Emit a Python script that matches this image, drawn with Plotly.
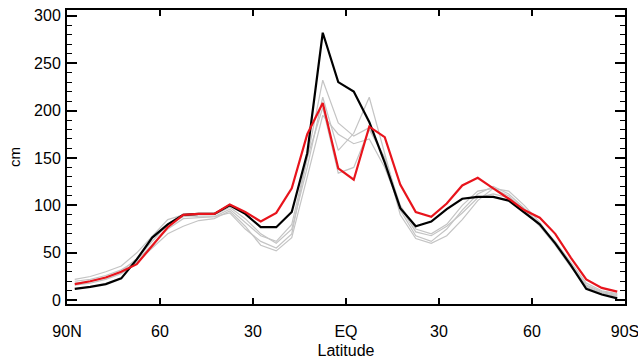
import numpy as np
import plotly.graph_objects as go

lat = [87.5 - 5 * i for i in range(36)]

black = [12, 14, 17, 23, 43, 66, 80, 90, 91, 91, 100, 91, 77, 77, 93,
         155, 282, 230, 220, 188, 145, 97, 78, 83, 96, 107, 109, 109, 105,
         92, 80, 60, 37, 12, 6, 2]
red = [17, 20, 24, 30, 38, 57, 77, 90, 91, 91, 101, 93, 83, 92, 118,
       175, 208, 139, 127, 183, 172, 122, 93, 88, 102, 121, 129, 118, 107,
       95, 87, 70, 45, 22, 13, 9]
gray1 = [20, 22, 26, 32, 42, 58, 75, 86, 87, 88, 96, 82, 68, 62, 80,
         150, 232, 187, 173, 182, 150, 100, 75, 70, 80, 100, 115, 118, 110,
         95, 78, 58, 35, 15, 8, 5]
gray2 = [18, 20, 24, 30, 44, 62, 80, 88, 90, 90, 98, 86, 70, 60, 75,
         140, 214, 158, 176, 214, 155, 95, 68, 62, 75, 95, 112, 120, 112,
         97, 80, 60, 37, 14, 7, 4]
gray3 = [22, 25, 30, 36, 50, 68, 85, 90, 88, 88, 92, 75, 62, 55, 70,
         150, 203, 134, 140, 180, 150, 90, 65, 60, 68, 85, 105, 118, 115,
         100, 82, 60, 38, 16, 9, 6]
gray4 = [16, 18, 22, 28, 40, 55, 70, 78, 84, 86, 94, 78, 58, 52, 66,
         130, 195, 175, 165, 170, 140, 98, 72, 68, 78, 92, 108, 112, 108,
         95, 80, 62, 40, 18, 10, 7]

xtick_vals = [90, 60, 30, 0, -30, -60, -90]
xtick_text = ["90N", "60", "30", "EQ", "30", "60", "90S"]
ytick_vals = [0, 50, 100, 150, 200, 250, 300]

fig = go.Figure()
for g in [gray1, gray2, gray3, gray4]:
    fig.add_trace(go.Scatter(x=lat, y=g, mode="lines",
                             line=dict(color="#c4c4c4", width=1.2),
                             showlegend=False, hoverinfo="skip"))
fig.add_trace(go.Scatter(x=lat, y=black, mode="lines",
                         line=dict(color="black", width=2.2), showlegend=False))
fig.add_trace(go.Scatter(x=lat, y=red, mode="lines",
                         line=dict(color="#e8141c", width=2.2), showlegend=False))

font = dict(family="Liberation Sans, Arial, sans-serif", size=16, color="black")

fig.update_layout(
    width=638, height=359,
    margin=dict(l=67, r=13, t=10, b=55, autoexpand=False),
    paper_bgcolor="white", plot_bgcolor="white",
    font=font,
    xaxis=dict(
        range=[90, -90], tickmode="array", tickvals=xtick_vals, ticktext=xtick_text,
        ticks="inside", ticklen=6, tickwidth=1.5, tickcolor="black",
        showline=True, linecolor="black", linewidth=2, mirror="ticks",
        showgrid=False, zeroline=False, ticklabelstandoff=12,
        ticklabeloverflow="allow", automargin=False,
        title=dict(text="Latitude", standoff=14, font=dict(size=16)),
    ),
    yaxis=dict(
        range=[-4, 306], tickmode="array", tickvals=ytick_vals,
        ticks="inside", ticklen=10, tickwidth=1.5, tickcolor="black",
        minor=dict(dtick=10, ticks="inside", ticklen=5, tickwidth=1.2, tickcolor="black"),
        showline=True, linecolor="black", linewidth=2, mirror="ticks",
        showgrid=False, zeroline=False, ticklabelstandoff=1, automargin=False,
        title=dict(text="cm", standoff=10, font=dict(size=15)),
    ),
)

fig.write_html("out.html", config={"displayModeBar": False},
               post_script="document.body.style.margin='0';document.body.style.overflow='hidden';")
